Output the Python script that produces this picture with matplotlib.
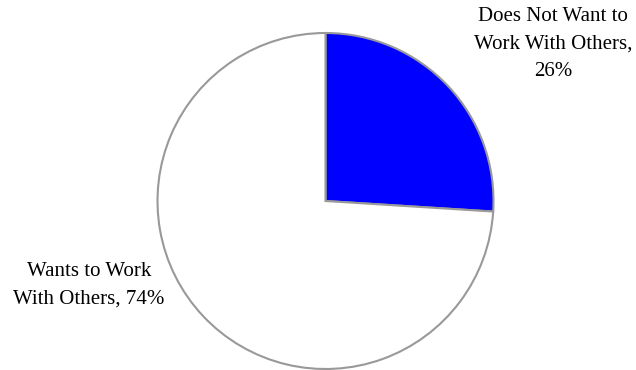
import matplotlib
matplotlib.use("Agg")
import matplotlib.pyplot as plt

categories = ["Does Not Want to\nWork With Others,", "Wants to Work\nWith Others,"]
values = [26, 74]
colors = ["#0000FF", "#FFFFFF"]

W, H = 636, 370
fig = plt.figure(figsize=(W / 100, H / 100), dpi=100)
ax = fig.add_axes([0, 0, 1, 1])

cx, cy, r = 325.5, H - 201, 168
wedges, _ = ax.pie(values, colors=colors, startangle=90, counterclock=False,
                   center=(cx, cy), radius=r, frame=True,
                   wedgeprops=dict(edgecolor="#999999", linewidth=1.5))
ax.set_xlim(0, W)
ax.set_ylim(0, H)
ax.set_aspect("equal")
ax.axis("off")

font = dict(family="Liberation Serif", fontsize=15, color="#000000")
ax.text(553, H - 7, f"{categories[0]}\n{values[0]}%", ha="center", va="top",
        linespacing=1.6, **font)
ax.text(89, H - 262, f"{categories[1]} {values[1]}%", ha="center", va="top",
        linespacing=1.6, **font)

fig.savefig("out.png", dpi=100)
